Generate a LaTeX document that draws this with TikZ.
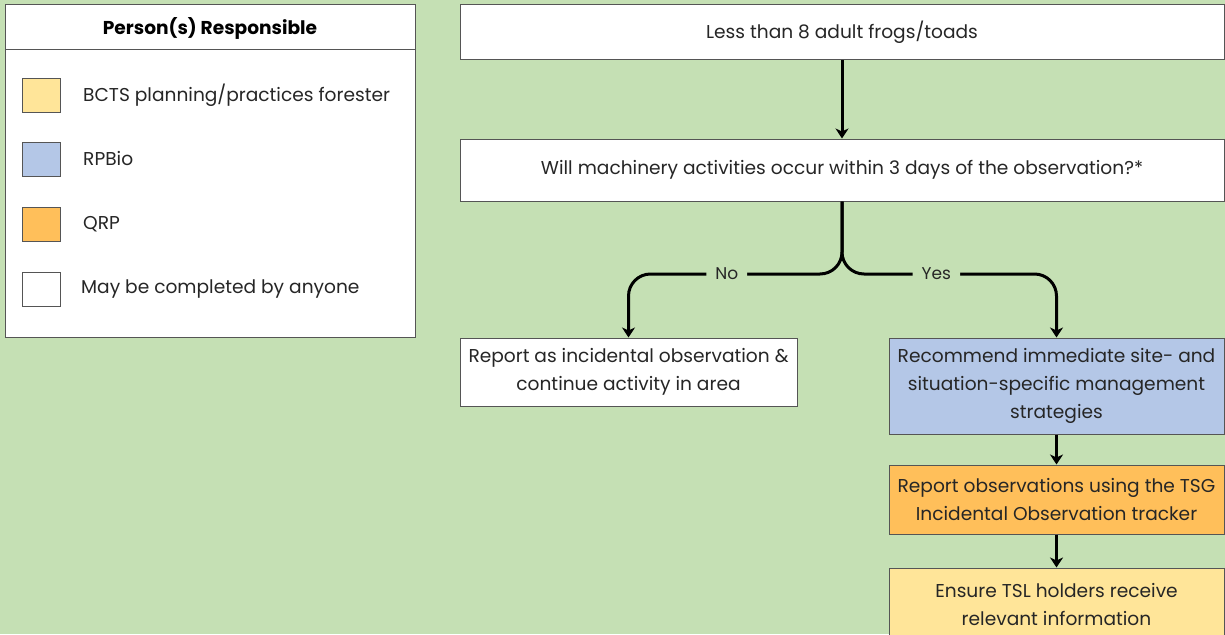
\documentclass[tikz,border=0pt]{standalone}
\usepackage{fontspec}
\setmainfont{Poppins}
\usetikzlibrary{arrows.meta,calc}
\definecolor{bggreen}{HTML}{C5E0B4}
\definecolor{fyellow}{HTML}{FFE599}
\definecolor{fblue}{HTML}{B4C7E7}
\definecolor{forange}{HTML}{FFBF5A}
\definecolor{edge}{HTML}{555555}
\tikzset{
  box/.style={draw=edge, line width=1pt, align=center, inner sep=0pt,
    font=\fontsize{18.6}{28}\selectfont, text=black!85},
  swatch/.style={draw=edge, line width=1pt, minimum width=38, minimum height=34, inner sep=0pt},
  legtext/.style={anchor=west, font=\fontsize{18.6}{22}\selectfont, text=black!85, inner sep=0pt},
  arr/.style={draw=black, line width=3pt, -{Stealth[length=10pt,width=13pt,inset=3pt]}},
  lbl/.style={fill=bggreen, draw=bggreen, line width=2pt, inner xsep=8pt, inner ysep=5pt,
    font=\fontsize{17}{20}\selectfont, text=black!85},
}
\begin{document}
\begin{tikzpicture}[x=1pt,y=-1pt]
\fill[bggreen] (0,0) rectangle (1225,634);
\useasboundingbox (0,0) rectangle (1225,634);

% legend panel
\draw[edge, fill=white, line width=1pt] (5,5) rectangle (415,337);
\draw[edge, line width=1pt] (5,50) -- (415,50);
\node[font=\fontsize{18.6}{22}\selectfont\bfseries] (legtitle) at (210,28) {Person(s) Responsible};
\node[swatch, fill=fyellow] (sw1) at (41,95) {};
\node[swatch, fill=fblue]   (sw2) at (41,159) {};
\node[swatch, fill=forange] (sw3) at (41,224) {};
\node[swatch, fill=white]   (sw4) at (41,289) {};
\node[legtext] (lt1) at (83,95) {BCTS planning/practices forester};
\node[legtext] (lt2) at (83,159) {RPBio};
\node[legtext] (lt3) at (83,224) {QRP};
\node[legtext] (lt4) at (81,289) {May be completed by anyone};

% flow boxes
\node[box, fill=white, minimum width=764, minimum height=55] (b1) at (842,32.5)
  {Less than 8 adult frogs/toads};
\node[box, fill=white, minimum width=764, minimum height=62] (b2) at (842,170)
  {Will machinery activities occur within 3 days of the observation?*};
\node[box, fill=white, minimum width=337, minimum height=68] (b3) at (628.5,372)
  {Report as incidental observation \&\\continue activity in area};
\node[box, fill=fblue, minimum width=335, minimum height=96] (b4) at (1056.5,386)
  {Recommend immediate site- and\\situation-specific management\\strategies};
\node[box, fill=forange, minimum width=335, minimum height=69] (b5) at (1056.5,499.5)
  {Report observations using the TSG\\Incidental Observation tracker};
\node[box, fill=fyellow, minimum width=335, minimum height=72] (b6) at (1056.5,604)
  {Ensure TSL holders receive\\relevant information};

% connectors
\coordinate (split) at (842,274);
\draw[arr] (b1) -- (b2);
\draw[arr, rounded corners=22] (b2.south) -- (split) -| node[pos=0.27, lbl] {No} (b3.north);
\draw[arr, rounded corners=22] (b2.south) -- (split) -| node[pos=0.22, lbl] {Yes} (b4.north);
\draw[arr] (b4) -- (b5);
\draw[arr] (b5) -- (b6);
\end{tikzpicture}
\end{document}
